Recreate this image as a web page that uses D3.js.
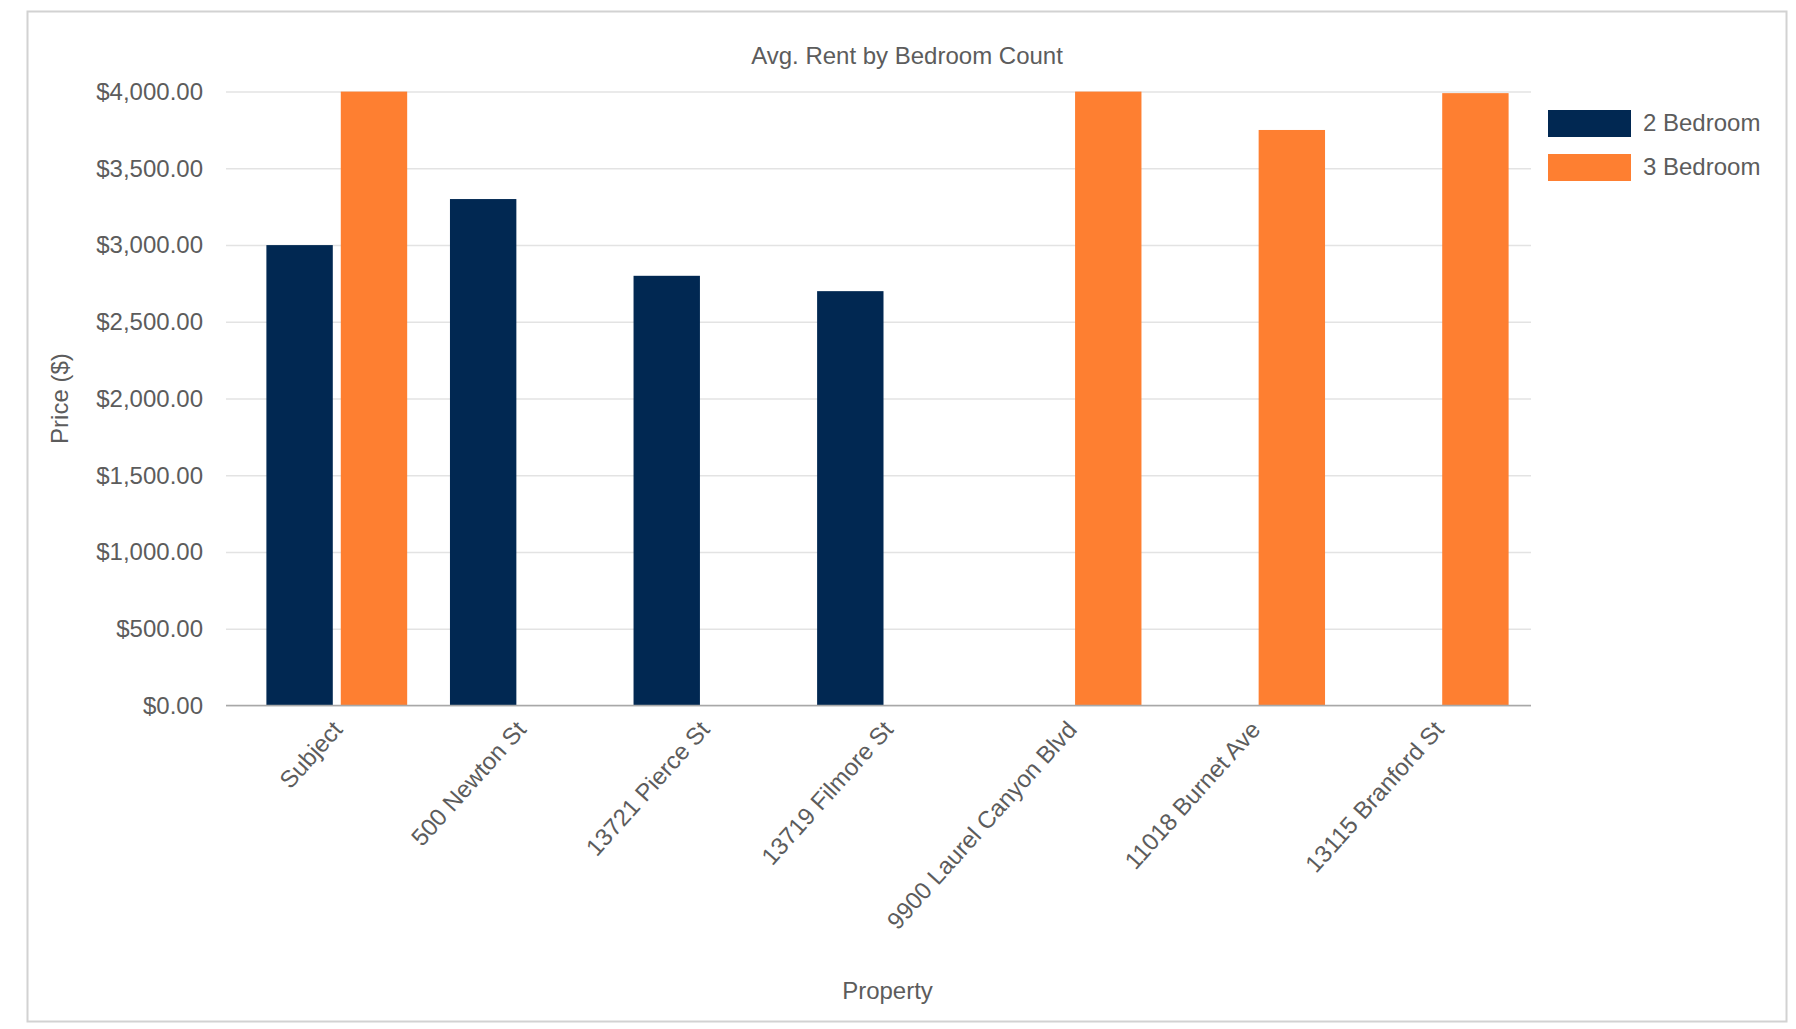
<!DOCTYPE html>
<html>
<head>
<meta charset="utf-8">
<script src="https://cdn.jsdelivr.net/npm/d3@7"></script>
<style>
  html, body { margin: 0; padding: 0; background: #fff; }
  svg { display: block; font-family: "Liberation Sans", Arial, sans-serif; }
</style>
</head>
<body>
<svg id="chart" width="1796" height="1029"></svg>
<script>
// Average rent per property, split by bedroom count
const categories = [
  "Subject",
  "500 Newton St",
  "13721 Pierce St",
  "13719 Filmore St",
  "9900 Laurel Canyon Blvd",
  "11018 Burnet Ave",
  "13115 Branford St"
];
const seriesNames = ["2 Bedroom", "3 Bedroom"];
const twoBedroom   = [3000, 3300, 2800, 2700, null, null, null];
const threeBedroom = [4000, null, null, null, 4000, 3750, 3990];
const yTicks = [0, 500, 1000, 1500, 2000, 2500, 3000, 3500, 4000];
const seriesColors = ["#012852", "#fe7f31"];

const svg = d3.select("#chart");
const textColor = "#5c5c5c";
const fontSize = 24;

// frame
svg.append("rect")
  .attr("x", 27.5).attr("y", 11.5)
  .attr("width", 1759).attr("height", 1010)
  .attr("fill", "#fff").attr("stroke", "#d2d2d2").attr("stroke-width", 2);

const plot = { left: 226, right: 1531, top: 91.6, bottom: 705.6 };
const bandLeft = 245, bandRight = 1530;

const x = d3.scaleBand().domain(categories).range([bandLeft, bandRight]);
const xs = d3.scaleBand().domain(seriesNames).range([0, x.bandwidth()])
  .paddingInner(0.1075).paddingOuter(0.2876);
const y = d3.scaleLinear().domain([0, 4000]).range([plot.bottom, plot.top]);

// y axis with gridlines
const yAxis = svg.append("g")
  .attr("transform", `translate(${plot.left},0)`)
  .call(d3.axisLeft(y).tickValues(yTicks)
    .tickSize(-(plot.right - plot.left)).tickPadding(23)
    .tickFormat(d3.format("$,.2f")));
yAxis.select(".domain").remove();
yAxis.selectAll(".tick line").attr("stroke", "#e3e3e3").attr("stroke-width", 1.5);
yAxis.selectAll(".tick text")
  .attr("fill", textColor).attr("font-size", fontSize)
  .attr("font-family", "Liberation Sans, Arial, sans-serif");

// bars
const rows = categories.map((c, i) => ({ cat: c, values: [twoBedroom[i], threeBedroom[i]] }));
const groups = svg.append("g").selectAll("g").data(rows).join("g")
  .attr("transform", d => `translate(${x(d.cat)},0)`);
groups.selectAll("rect")
  .data(d => d.values.map((v, k) => ({ key: seriesNames[k], value: v, k })).filter(e => e.value != null))
  .join("rect")
  .attr("x", e => xs(e.key))
  .attr("width", xs.bandwidth())
  .attr("y", e => y(e.value))
  .attr("height", e => y(0) - y(e.value))
  .attr("fill", e => seriesColors[e.k]);

// baseline
svg.append("line")
  .attr("x1", plot.left).attr("x2", plot.right)
  .attr("y1", y(0)).attr("y2", y(0))
  .attr("stroke", "#a8a8a8").attr("stroke-width", 1.5);

// x axis labels
const xAxis = svg.append("g")
  .attr("transform", `translate(0,${plot.bottom})`)
  .call(d3.axisBottom(x).tickSize(0).tickPadding(0));
xAxis.select(".domain").remove();
xAxis.selectAll(".tick text")
  .attr("fill", textColor).attr("font-size", fontSize)
  .attr("font-family", "Liberation Sans, Arial, sans-serif")
  .attr("text-anchor", "end")
  .attr("dy", null).attr("y", 0)
  .attr("transform", "translate(7,25) rotate(-48)");

// titles
svg.append("text")
  .attr("x", 907).attr("y", 64)
  .attr("text-anchor", "middle")
  .attr("fill", textColor).attr("font-size", fontSize)
  .text("Avg. Rent by Bedroom Count");

svg.append("text")
  .attr("x", (bandLeft + bandRight) / 2).attr("y", 999)
  .attr("text-anchor", "middle")
  .attr("fill", textColor).attr("font-size", fontSize)
  .text("Property");

svg.append("text")
  .attr("transform", `translate(68,${(plot.top + plot.bottom) / 2}) rotate(-90)`)
  .attr("text-anchor", "middle")
  .attr("fill", textColor).attr("font-size", fontSize)
  .text("Price ($)");

// legend
const legend = svg.append("g").attr("transform", "translate(1548,110)");
const item = legend.selectAll("g").data(seriesNames).join("g")
  .attr("transform", (d, i) => `translate(0,${i * 44})`);
item.append("rect")
  .attr("width", 83).attr("height", 27)
  .attr("fill", (d, i) => seriesColors[i]);
item.append("text")
  .attr("x", 95).attr("y", 12.5).attr("dy", "0.35em")
  .attr("fill", textColor).attr("font-size", fontSize)
  .text(d => d);
</script>
</body>
</html>
